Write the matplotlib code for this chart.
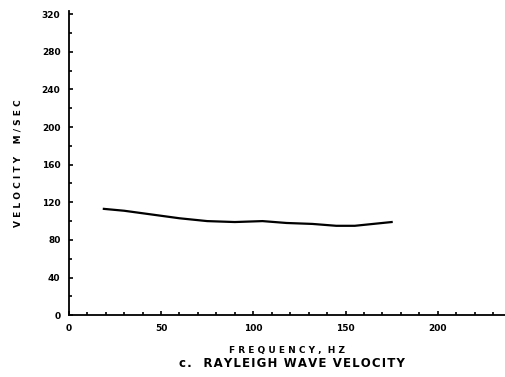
import numpy as np
import matplotlib.pyplot as plt
from matplotlib.ticker import MultipleLocator

# values
freq = [19, 30, 45, 60, 75, 90, 105, 118, 132, 145, 155, 165, 175]
velocity = [113, 111, 107, 103, 100, 99, 100, 98, 97, 95, 95, 97, 99]

xticks = [0, 50, 100, 150, 200]
yticks = [0, 40, 80, 120, 160, 200, 240, 280, 320]

title = 'c.  RAYLEIGH WAVE VELOCITY'

fig = plt.figure(figsize=(5.06, 3.77), dpi=100)
ax = fig.add_axes([0.136, 0.164, 0.864, 0.806])

ax.plot(freq, velocity, color='black', lw=1.6)

ax.set_xlim(0, 237)
ax.set_ylim(0, 323)
ax.set_xticks(xticks)
ax.set_yticks(yticks)
ax.xaxis.set_minor_locator(MultipleLocator(10))
ax.yaxis.set_minor_locator(MultipleLocator(20))

for s in ['top', 'right']:
    ax.spines[s].set_visible(False)
for s in ['left', 'bottom']:
    ax.spines[s].set_linewidth(1.3)

ax.tick_params(which='both', direction='in', width=1.2)
ax.tick_params(which='major', length=3, labelsize=6.5, pad=6)
ax.tick_params(which='minor', length=2)
for lab in ax.get_xticklabels() + ax.get_yticklabels():
    lab.set_fontweight('bold')

ax.set_xlabel('F R E Q U E N C Y ,  H Z', fontsize=6.5, fontweight='bold', labelpad=10)
ax.set_ylabel('V E L O C I T Y    M / S E C', fontsize=6.5, fontweight='bold', labelpad=14)
# letters of the caption are spread out a little, like the typed original
fig.text(0.577, 0.036, '\u200a'.join(title), fontsize=8.5, fontweight='bold',
         ha='center', va='center')

fig.savefig('out.png', dpi=100)
